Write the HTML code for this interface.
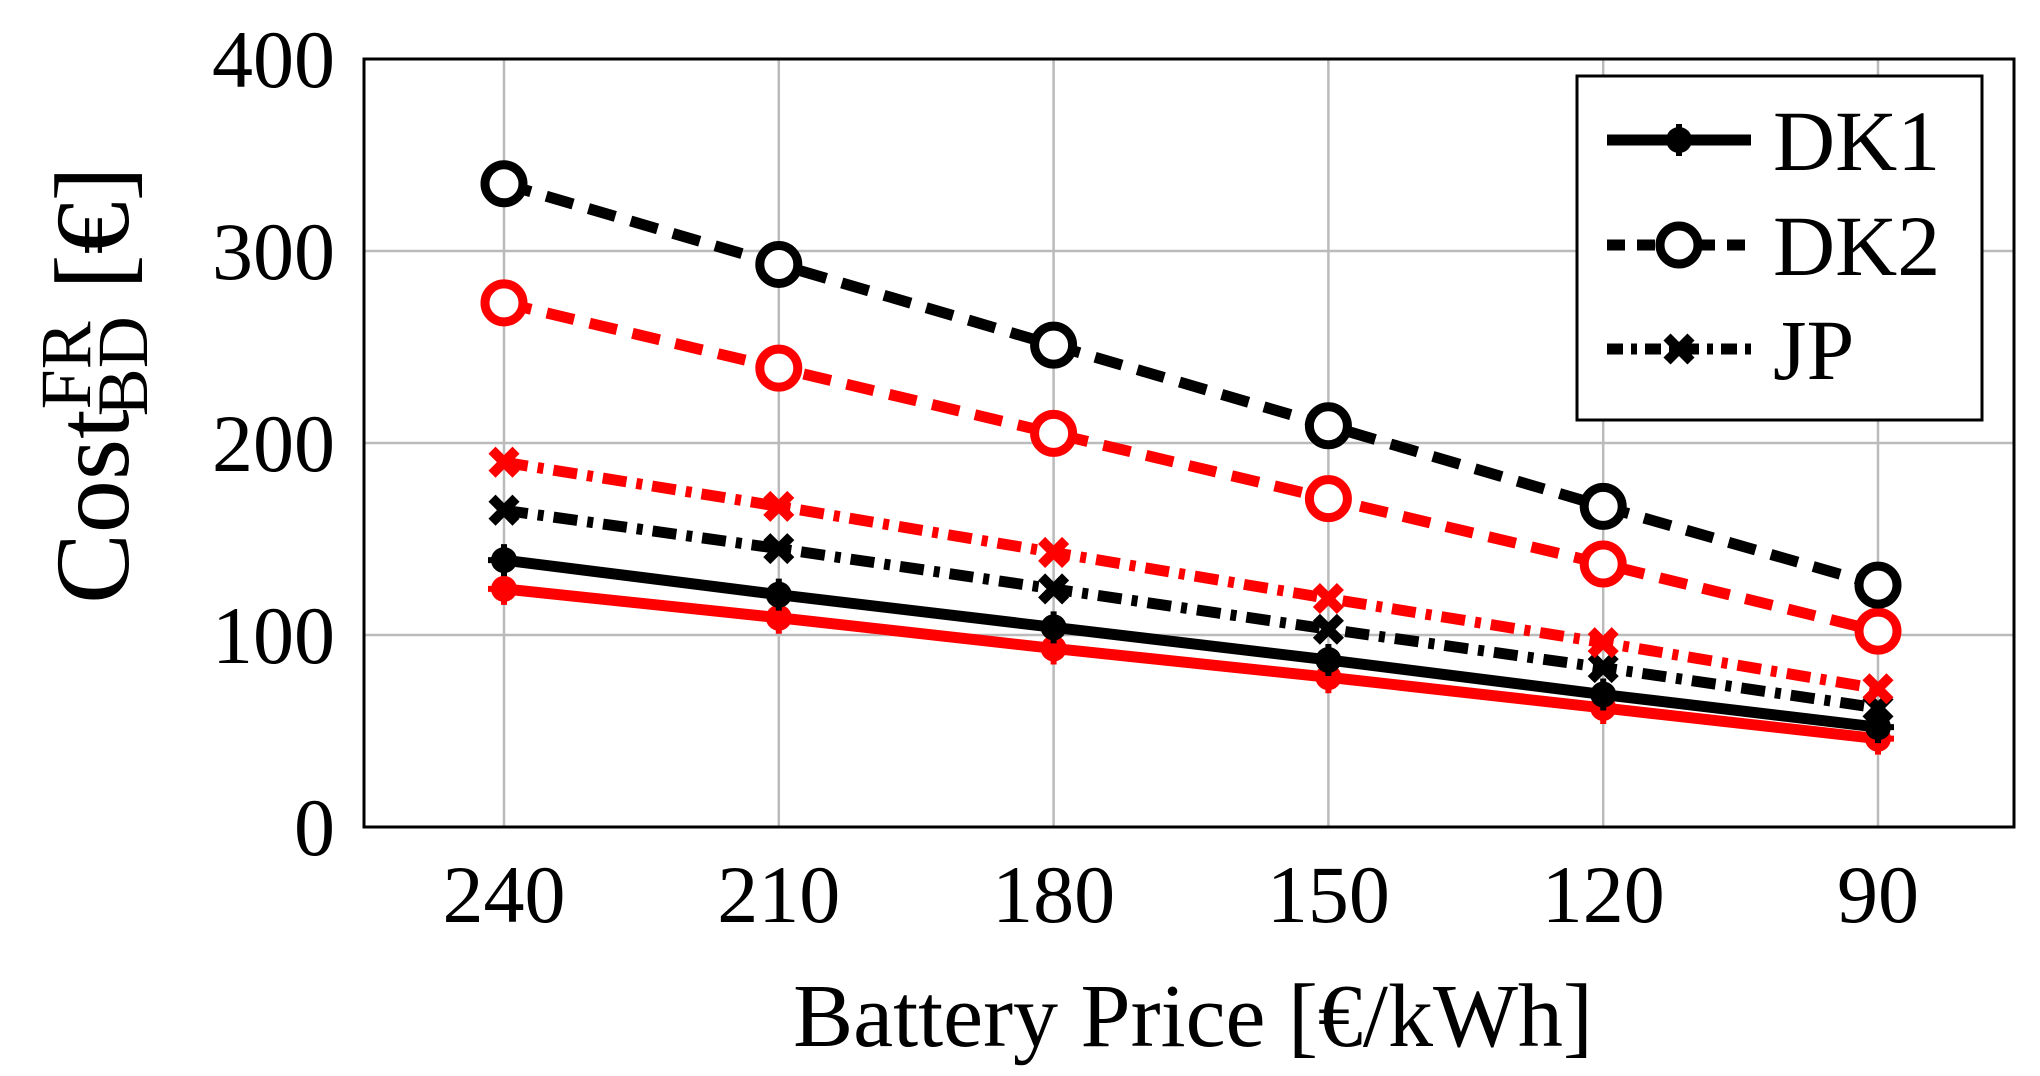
<!DOCTYPE html>
<html><head><meta charset="utf-8"><style>
html,body{margin:0;padding:0;background:#fff;}
svg{display:block;font-family:"Liberation Serif",serif;}
</style></head><body>
<svg id="chart" width="2040" height="1076" viewBox="0 0 2040 1076" xmlns="http://www.w3.org/2000/svg">
<g id="grid"></g>
<g id="series"></g>
<rect x="364" y="59" width="1650" height="768" fill="none" stroke="#000" stroke-width="3"/>
<g id="ticks"></g>
<text x="1193" y="1046" font-size="90" text-anchor="middle">Battery Price [€/kWh]</text>
<g transform="translate(128,385) rotate(-90)">
<text text-anchor="middle" font-size="106">Cost<tspan font-size="72" dy="-38">FR</tspan><tspan font-size="72" dx="-95" dy="57">BD</tspan><tspan dy="-19"> [€]</tspan></text>
</g>
<g>
<rect x="1577" y="76" width="405" height="344" fill="#fff" stroke="#000" stroke-width="3"/>
<g id="legend-items"></g>
</g>
</svg>
<script>
const categories = [240, 210, 180, 150, 120, 90];
const yTicks = [0, 100, 200, 300, 400];
const dk1Black = [139, 121, 104, 87, 69, 52];
const dk1Red = [124, 109, 93, 78, 62, 46];
const dk2Black = [335, 293, 251, 209, 167, 126];
const dk2Red = [273, 239, 205, 171, 137, 102];
const jpBlack = [165, 145, 124, 103, 83, 62];
const jpRed = [190, 167, 143, 119, 96, 72];

const NS = "http://www.w3.org/2000/svg";
const X0 = 504, X1 = 1878, Y0 = 827, Y1 = 59;
function xPos(i){ return X0 + (X1 - X0) * i / (categories.length - 1); }
function yPos(v){ return Y0 - (Y0 - Y1) * v / 400; }
function mk(tag, attrs, parent){ const e = document.createElementNS(NS, tag); for (const k in attrs) e.setAttribute(k, attrs[k]); parent.appendChild(e); return e; }

const grid = document.getElementById('grid');
const ticks = document.getElementById('ticks');
yTicks.forEach(v => {
  const l = mk('line', {x1:364, x2:2014, y1:yPos(v), y2:yPos(v), stroke:'#bbb', 'stroke-width':2.5}, grid);
  
  
  const t = mk('text', {x:335, y:yPos(v)+28, 'font-size':82, 'text-anchor':'end'}, ticks);
  t.textContent = v;
  
  
});
categories.forEach((c, i) => {
  const l = mk('line', {x1:xPos(i), x2:xPos(i), y1:59, y2:827, stroke:'#bbb', 'stroke-width':2.5}, grid);
  
  
  const t = mk('text', {x:xPos(i), y:922, 'font-size':82, 'text-anchor':'middle'}, ticks);
  t.textContent = c;
  
  
});

const styles = {
  solid: '',
  dash: '28 16',
  dashdot: '24 10 6 10'
};
function marker(g, type, x, y, color){
  if (type === 'circle') {
    mk('circle', {cx:x, cy:y, r:19, fill:'#fff', stroke:color, 'stroke-width':9}, g);
  } else if (type === 'x') {
    mk('path', {d:`M${x-12},${y-12}L${x+12},${y+12}M${x-12},${y+12}L${x+12},${y-12}`, stroke:color, 'stroke-width':10}, g);
  } else {
    mk('circle', {cx:x, cy:y, r:13, fill:color}, g);
    mk('path', {d:`M${x},${y-16}V${y+16}M${x-16},${y}H${x+16}`, stroke:color, 'stroke-width':6}, g);
  }
}
const seriesDefs = [
  {name:'dk1-red', data:dk1Red, color:'#ff0000', dash:'solid', m:'star'},
  {name:'dk1-black', data:dk1Black, color:'#000', dash:'solid', m:'star'},
  {name:'jp-black', data:jpBlack, color:'#000', dash:'dashdot', m:'x'},
  {name:'jp-red', data:jpRed, color:'#ff0000', dash:'dashdot', m:'x'},
  {name:'dk2-red', data:dk2Red, color:'#ff0000', dash:'dash', m:'circle'},
  {name:'dk2-black', data:dk2Black, color:'#000', dash:'dash', m:'circle'}
];
const sg = document.getElementById('series');
seriesDefs.forEach(s => {
  const g = mk('g', {}, sg);
  
  
  const pts = s.data.map((v, i) => xPos(i) + ',' + yPos(v)).join(' ');
  const attrs = {points:pts, fill:'none', stroke:s.color, 'stroke-width':11};
  if (styles[s.dash]) attrs['stroke-dasharray'] = styles[s.dash];
  mk('polyline', attrs, g);
  s.data.forEach((v, i) => marker(g, s.m, xPos(i), yPos(v), s.color));
});

const legendItems = [
  {label:'DK1', dash:'solid', m:'star', y:140},
  {label:'DK2', dash:'dash', m:'circle', y:245},
  {label:'JP', dash:'dashdot', m:'x', y:349}
];
const lg = document.getElementById('legend-items');
legendItems.forEach(it => {
  const g = mk('g', {}, lg);
  
  
  const attrs = {x1:1607, x2:1751, y1:it.y, y2:it.y, stroke:'#000', 'stroke-width':11};
  if (styles[it.dash]) attrs['stroke-dasharray'] = it.dash === 'dash' ? '18 12' : '16 8 6 8';
  mk('line', attrs, g);
  marker(g, it.m, 1679, it.y, '#000');
  const t = mk('text', {x:1773, y:it.y+30, 'font-size':86}, g);
  t.textContent = it.label;
});
</script>
</body></html>
